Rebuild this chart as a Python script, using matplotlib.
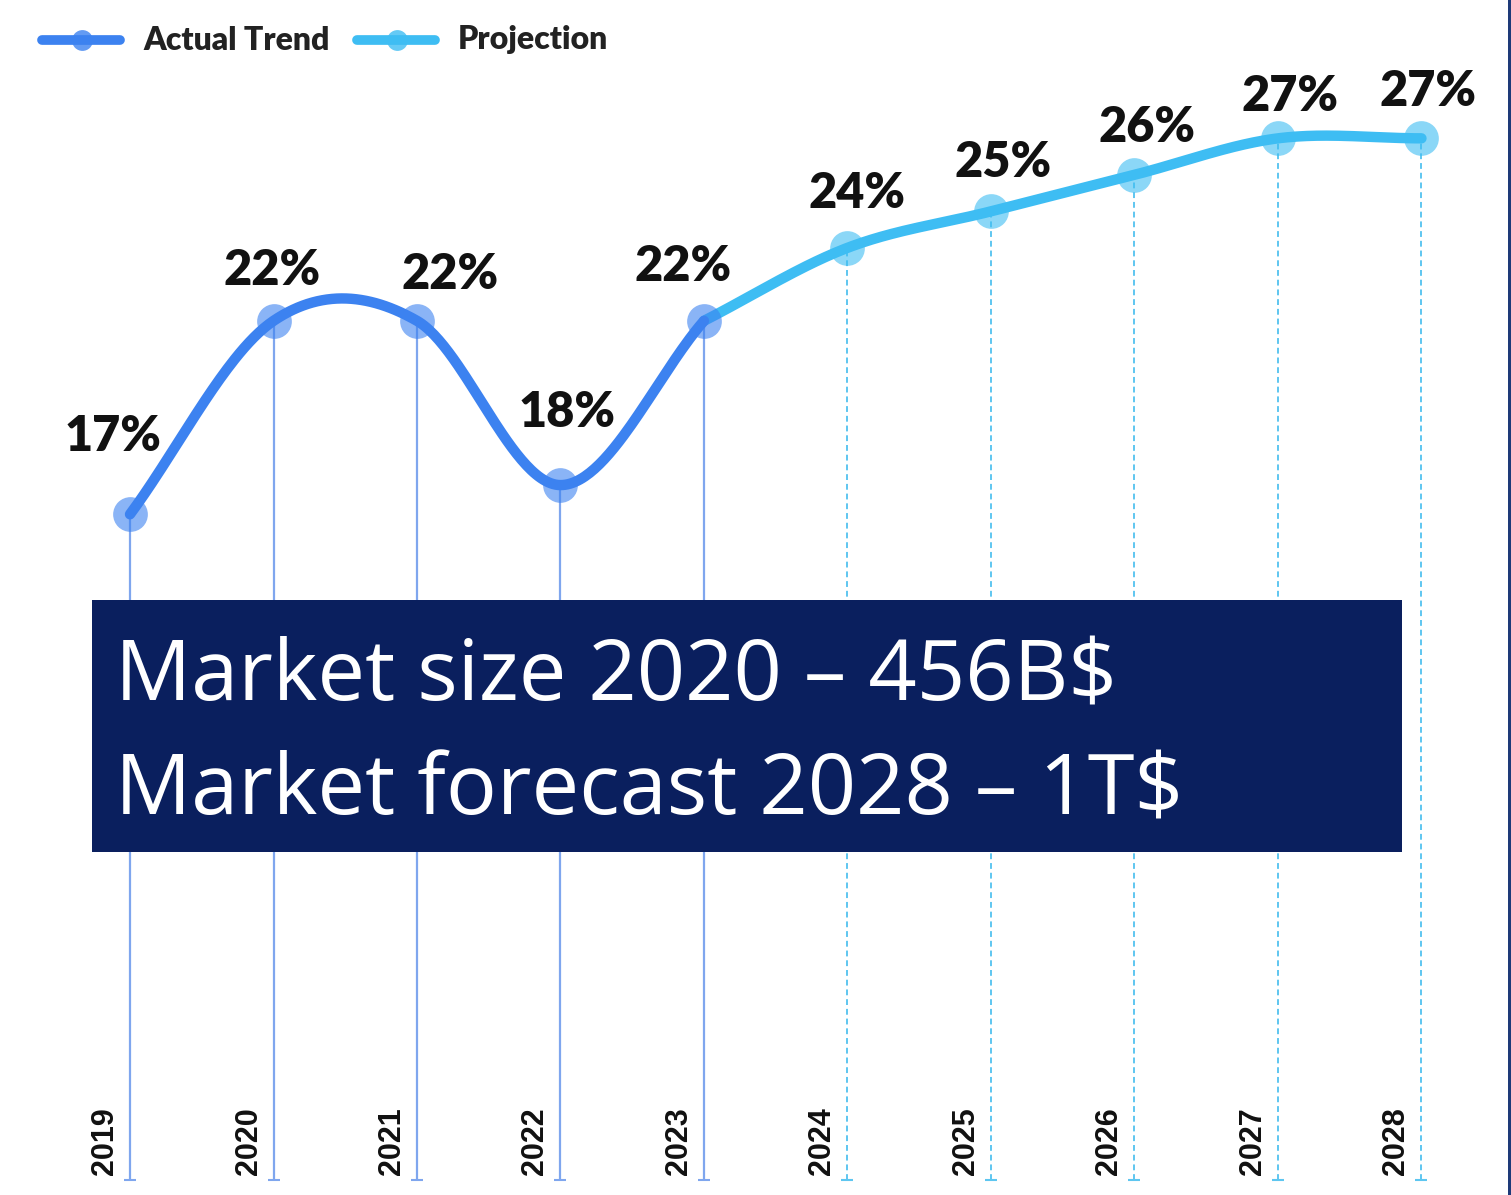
import matplotlib
matplotlib.use("Agg")
import matplotlib.pyplot as plt
from matplotlib.patches import Rectangle
import numpy as np

years = [2019, 2020, 2021, 2022, 2023, 2024, 2025, 2026, 2027, 2028]
values = [16.7, 22.0, 22.0, 17.5, 22.0, 24.0, 25.0, 26.0, 27.0, 27.0]
labels = ["17%", "22%", "22%", "18%", "22%", "24%", "25%", "26%", "27%", "27%"]
n_actual = 5  # 2019..2023 are actual, 2023..2028 projection
box_lines = ["Market size 2020 \u2013 456B$", "Market forecast 2028 \u2013 1T$"]

# label offsets in points (dx, dy) from the marker
label_off = [(-12, 56), (-1, 36), (24, 33), (5, 52), (-15, 39),
             (7, 39), (9, 35), (9, 34), (9, 30), (5, 34)]

c_actual = "#3c82f0"
c_proj = "#3ebdf3"
navy = "#0a1f5e"


def catmull(x, y, steps=60):
    x = np.asarray(x, float)
    y = np.asarray(y, float)
    m = np.zeros_like(y)
    m[1:-1] = (y[2:] - y[:-2]) / (x[2:] - x[:-2])
    m[0] = (y[1] - y[0]) / (x[1] - x[0])
    m[-1] = (y[-1] - y[-2]) / (x[-1] - x[-2])
    xs, ys = [], []
    for i in range(len(x) - 1):
        h = x[i + 1] - x[i]
        t = np.linspace(0, 1, steps)
        h00 = 2 * t**3 - 3 * t**2 + 1
        h10 = t**3 - 2 * t**2 + t
        h01 = -2 * t**3 + 3 * t**2
        h11 = t**3 - t**2
        xs.append(x[i] + t * h)
        ys.append(h00 * y[i] + h10 * h * m[i] + h01 * y[i + 1] + h11 * h * m[i + 1])
    return np.concatenate(xs), np.concatenate(ys)


fig = plt.figure(figsize=(15.11, 11.95), dpi=100)
ax = fig.add_axes([0, 0, 1, 1])
ax.set_xlim(2018.094, 2028.624)
ax.set_ylim(-1.95, 30.79)
ax.axis("off")

bottom = -1.55

# vertical guide lines
ax.vlines(years[:n_actual], bottom, values[:n_actual], color="#7fa6ee", lw=1.6, zorder=1)
ax.vlines(years[n_actual:], bottom, values[n_actual:], color="#5ec6f0", lw=1.4,
          linestyles=(0, (3, 2)), zorder=1)
ax.plot(years[:n_actual], [bottom] * n_actual, "_", color="#7fa6ee", ms=9, mew=1.5)
ax.plot(years[n_actual:], [bottom] * (len(years) - n_actual), "_", color="#5ec6f0", ms=9, mew=1.5)

# smooth lines
xa, ya = catmull(years[:n_actual], values[:n_actual])
xp, yp = catmull(years[n_actual - 1:], values[n_actual - 1:])
ax.plot(xp, yp, color=c_proj, lw=7.5, solid_capstyle="round", zorder=3)
ax.plot(xa, ya, color=c_actual, lw=7.5, solid_capstyle="round", zorder=4)

ax.plot(years[:n_actual], values[:n_actual], "o", ms=25, color=c_actual, alpha=0.6,
        mec="none", zorder=5)
ax.plot(years[n_actual:], values[n_actual:], "o", ms=25, color=c_proj, alpha=0.6,
        mec="none", zorder=5)

for yr, v, lab, off in zip(years, values, labels, label_off):
    ax.annotate(lab, (yr, v), xytext=off, textcoords="offset points",
                ha="center", va="center", fontsize=35, fontweight="heavy",
                family="Lato", color="#111111", zorder=6)

# year labels at the bottom
for yr in years:
    ax.annotate(str(yr), (yr, bottom), xytext=(-18, 4), textcoords="offset points",
                rotation=90, ha="center", va="bottom", fontsize=22,
                fontweight="bold", family="Liberation Sans", color="#111111")

# navy text box
ax.add_patch(Rectangle((0.0609, 0.287), 0.867, 0.211, transform=ax.transAxes,
                       facecolor=navy, edgecolor="none", zorder=7))
ax.text(0.0761, 0.414, box_lines[0], transform=ax.transAxes, color="white",
        fontsize=61, family="Open Sans", va="baseline", zorder=8)
ax.text(0.0761, 0.318, box_lines[1], transform=ax.transAxes, color="white",
        fontsize=61, family="Open Sans", va="baseline", zorder=8)

# right edge border
ax.add_patch(Rectangle((0.998, 0), 0.002, 1, transform=ax.transAxes,
                       facecolor="#1e3a78", edgecolor="none", zorder=9))

# legend
leg_y = 1 - 40 / 1195
for x0, col, name in [(42, c_actual, "Actual Trend"), (357, c_proj, "Projection")]:
    ax.plot([x0 / 1511, (x0 + 78) / 1511], [leg_y, leg_y], transform=ax.transAxes,
            color=col, lw=7, solid_capstyle="round")
    ax.plot([(x0 + 40) / 1511], [leg_y], "o", transform=ax.transAxes, color=col,
            ms=15, alpha=0.8, mec="none")
    ax.text((x0 + 101) / 1511, leg_y, name, transform=ax.transAxes, va="center",
            fontsize=23, fontweight="heavy", family="Lato", color="#222222")

fig.savefig("out.png", dpi=100, facecolor="white")
